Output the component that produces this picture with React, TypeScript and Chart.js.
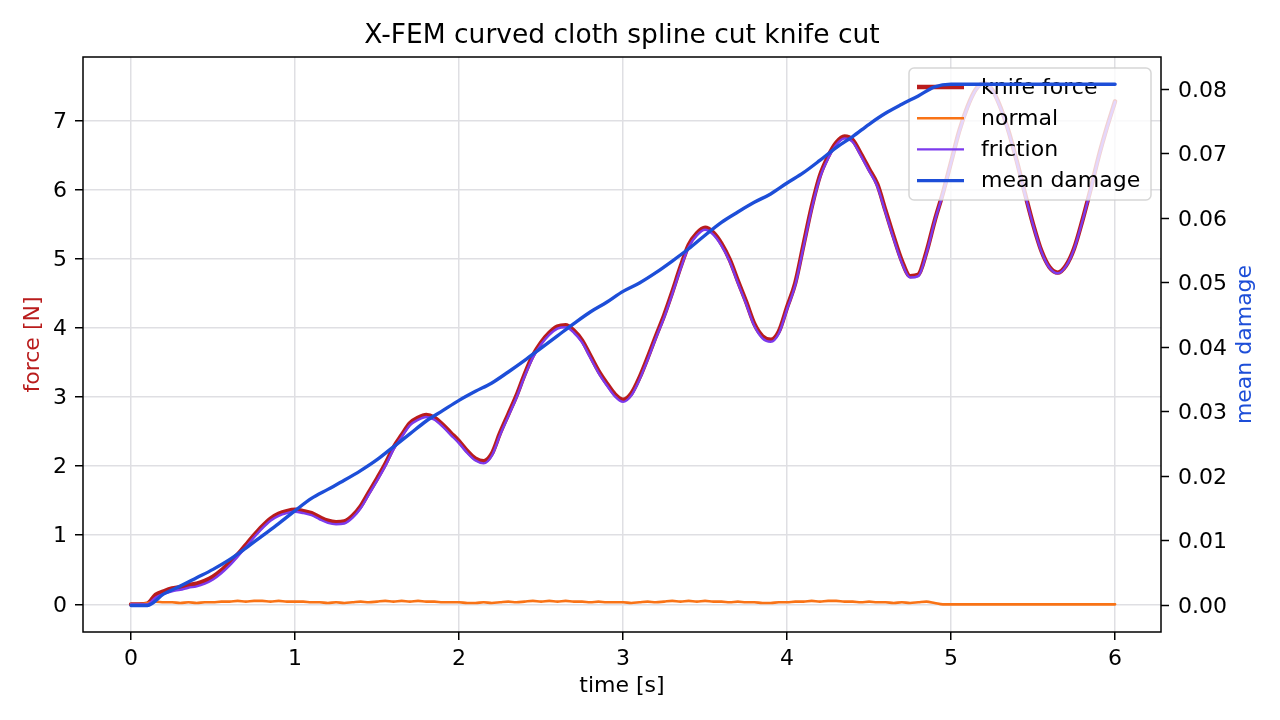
import { useEffect, useRef } from 'react';
import { Chart, registerables } from 'chart.js';

Chart.register(...registerables);

const FONT = '"DejaVu Sans", "Liberation Sans", sans-serif';

const TITLE = 'X-FEM curved cloth spline cut knife cut';
const X_LABEL = 'time [s]';
const Y_LABEL = 'force [N]';
const Y2_LABEL = 'mean damage';
const SERIES_NAMES = ['knife force', 'normal', 'friction', 'mean damage'];

const X_TICKS = [0, 1, 2, 3, 4, 5, 6];
const Y_TICKS = [0, 1, 2, 3, 4, 5, 6, 7];
const Y2_TICKS = [0, 0.01, 0.02, 0.03, 0.04, 0.05, 0.06, 0.07, 0.08];

const time = [
  0.0, 0.05, 0.1, 0.15, 0.2, 0.25, 0.3, 0.35, 0.4, 0.45,
  0.5, 0.55, 0.6, 0.65, 0.7, 0.75, 0.8, 0.85, 0.9, 0.95,
  1.0, 1.05, 1.1, 1.15, 1.2, 1.25, 1.3, 1.35, 1.4, 1.45,
  1.5, 1.55, 1.6, 1.65, 1.7, 1.75, 1.8, 1.85, 1.9, 1.95,
  2.0, 2.05, 2.1, 2.15, 2.2, 2.25, 2.3, 2.35, 2.4, 2.45,
  2.5, 2.55, 2.6, 2.65, 2.7, 2.75, 2.8, 2.85, 2.9, 2.95,
  3.0, 3.05, 3.1, 3.15, 3.2, 3.25, 3.3, 3.35, 3.4, 3.45,
  3.5, 3.55, 3.6, 3.65, 3.7, 3.75, 3.8, 3.85, 3.9, 3.95,
  4.0, 4.05, 4.1, 4.15, 4.2, 4.25, 4.3, 4.35, 4.4, 4.45,
  4.5, 4.55, 4.6, 4.65, 4.7, 4.75, 4.8, 4.85, 4.9, 4.95,
  5.0, 5.05, 5.1, 5.15, 5.2, 5.25, 5.3, 5.35, 5.4, 5.45,
  5.5, 5.55, 5.6, 5.65, 5.7, 5.75, 5.8, 5.85, 5.9, 5.95,
  6.0,
];

const knifeForce = [
  0, 0, 0.01, 0.14, 0.19, 0.23, 0.25, 0.28, 0.3, 0.34,
  0.4, 0.49, 0.6, 0.72, 0.86, 1.0, 1.13, 1.24, 1.31, 1.35,
  1.37, 1.35, 1.32, 1.26, 1.21, 1.19, 1.2, 1.28, 1.42, 1.62,
  1.82, 2.03, 2.27, 2.45, 2.62, 2.7, 2.74, 2.7, 2.6, 2.48,
  2.36, 2.22, 2.11, 2.07, 2.18, 2.48, 2.75, 3.02, 3.33, 3.6,
  3.79, 3.93, 4.02, 4.04, 3.96, 3.82, 3.6, 3.38, 3.2, 3.04,
  2.96, 3.05, 3.28, 3.57, 3.88, 4.18, 4.52, 4.88, 5.2, 5.37,
  5.45, 5.38, 5.22, 4.99, 4.68, 4.38, 4.06, 3.88, 3.83, 3.95,
  4.3, 4.65, 5.2, 5.75, 6.2, 6.48, 6.68, 6.77, 6.72, 6.52,
  6.3, 6.08, 5.7, 5.32, 4.97, 4.75, 4.77, 5.1, 5.55, 5.95,
  6.4, 6.85, 7.2, 7.45, 7.54, 7.45, 7.2, 6.85, 6.42, 5.95,
  5.5, 5.12, 4.88, 4.8, 4.9, 5.15, 5.55, 6.0, 6.48, 6.9,
  7.28,
];

const normalForce = [
  0, 0, 0.02, 0.04, 0.03, 0.03, 0.02, 0.03, 0.02, 0.03,
  0.03, 0.04, 0.04, 0.05, 0.04, 0.05, 0.05, 0.04, 0.05, 0.04,
  0.04, 0.04, 0.03, 0.03, 0.02, 0.03, 0.02, 0.03, 0.04, 0.03,
  0.04, 0.05, 0.04, 0.05, 0.04, 0.05, 0.04, 0.04, 0.03, 0.03,
  0.03, 0.02, 0.02, 0.03, 0.02, 0.03, 0.04, 0.03, 0.04, 0.05,
  0.04, 0.05, 0.04, 0.05, 0.04, 0.04, 0.03, 0.04, 0.03, 0.03,
  0.03, 0.02, 0.03, 0.04, 0.03, 0.04, 0.05, 0.04, 0.05, 0.04,
  0.05, 0.04, 0.04, 0.03, 0.04, 0.03, 0.03, 0.02, 0.02, 0.03,
  0.03, 0.04, 0.04, 0.05, 0.04, 0.05, 0.05, 0.04, 0.04, 0.03,
  0.04, 0.03, 0.03, 0.02, 0.03, 0.02, 0.03, 0.04, 0.02, 0.0,
  0, 0, 0, 0, 0, 0, 0, 0, 0, 0,
  0, 0, 0, 0, 0, 0, 0, 0, 0, 0,
  0,
];

const frictionForce = [
  0, 0, 0, 0.1, 0.15, 0.19, 0.21, 0.24, 0.26, 0.3,
  0.36, 0.45, 0.56, 0.69, 0.83, 0.97, 1.1, 1.21, 1.28, 1.32,
  1.34, 1.32, 1.29, 1.23, 1.18, 1.16, 1.17, 1.25, 1.39, 1.59,
  1.79, 2.0, 2.24, 2.42, 2.59, 2.67, 2.71, 2.67, 2.57, 2.45,
  2.33, 2.19, 2.08, 2.04, 2.15, 2.45, 2.72, 2.99, 3.3, 3.57,
  3.76, 3.9, 3.99, 4.01, 3.93, 3.79, 3.57, 3.35, 3.17, 3.01,
  2.93, 3.02, 3.25, 3.54, 3.85, 4.15, 4.49, 4.85, 5.17, 5.34,
  5.42, 5.35, 5.19, 4.96, 4.65, 4.35, 4.03, 3.85, 3.8, 3.92,
  4.27, 4.62, 5.17, 5.72, 6.17, 6.45, 6.65, 6.74, 6.69, 6.49,
  6.27, 6.05, 5.67, 5.29, 4.94, 4.73, 4.75, 5.08, 5.54, 5.94,
  6.39, 6.84, 7.19, 7.44, 7.53, 7.44, 7.19, 6.84, 6.41, 5.94,
  5.49, 5.11, 4.87, 4.79, 4.89, 5.14, 5.54, 5.99, 6.47, 6.89,
  7.27,
];

const damageTime = [
  0.0, 0.1, 0.2, 0.3, 0.4, 0.5, 0.6, 0.7, 0.8, 0.9,
  1.0, 1.1, 1.2, 1.3, 1.4, 1.5, 1.6, 1.7, 1.8, 1.9,
  2.0, 2.1, 2.2, 2.3, 2.4, 2.5, 2.6, 2.7, 2.8, 2.9,
  3.0, 3.1, 3.2, 3.3, 3.4, 3.5, 3.6, 3.7, 3.8, 3.9,
  4.0, 4.1, 4.2, 4.3, 4.4, 4.5, 4.6, 4.7, 4.8, 4.9,
  5.0, 5.1, 5.2, 5.3, 5.4, 5.5, 5.6, 5.7, 5.8, 5.9,
  6.0,
];

const meanDamage = [
  0, 0, 0.0018, 0.003, 0.0043, 0.0056, 0.0071, 0.0089, 0.0108, 0.0127,
  0.0147, 0.0166, 0.018, 0.0194, 0.0209, 0.0226, 0.0246, 0.0266, 0.0286, 0.0302,
  0.0318, 0.0332, 0.0345, 0.0362, 0.038, 0.0399, 0.0418, 0.0437, 0.0455, 0.047,
  0.0487, 0.05, 0.0516, 0.0534, 0.0553, 0.0574, 0.0594, 0.061, 0.0625, 0.0638,
  0.0655, 0.0671, 0.069, 0.071, 0.0727, 0.0746, 0.0763, 0.0777, 0.079, 0.0804,
  0.0808, 0.0808, 0.0808, 0.0808, 0.0808, 0.0808, 0.0808, 0.0808, 0.0808, 0.0808,
  0.0808,
];

const COLORS = ['#b91c1c', '#f97316', '#7c3aed', '#1d4ed8'];
const WIDTHS = [4.4, 2.6, 2.4, 3.4];

const GRID = '#dfdfe3';

function pairs(xs: number[], ys: number[]) {
  return xs.map((x, i) => ({ x, y: ys[i] }));
}

const overlayPlugin = {
  id: 'overlay',
  afterDatasetDraw(chart: any, args: any) {
    if (args.index !== 2) return;
    const ctx = chart.ctx as CanvasRenderingContext2D;
    const area = chart.chartArea;
    const bx = area.right - 252;
    const by = area.top + 11;
    const bw = 242;
    const bh = 132;
    ctx.save();
    ctx.beginPath();
    (ctx as any).roundRect(bx, by, bw, bh, 5);
    ctx.fillStyle = 'rgba(255,255,255,0.8)';
    ctx.fill();
    ctx.lineWidth = 1.5;
    ctx.strokeStyle = 'rgba(204,204,204,0.8)';
    ctx.stroke();
    ctx.font = `22px ${FONT}`;
    ctx.textBaseline = 'middle';
    ctx.textAlign = 'left';
    SERIES_NAMES.forEach((name, i) => {
      const y = by + 19 + i * 31.2;
      ctx.beginPath();
      ctx.moveTo(bx + 8, y);
      ctx.lineTo(bx + 55, y);
      ctx.strokeStyle = COLORS[i];
      ctx.lineWidth = WIDTHS[i];
      ctx.stroke();
      ctx.fillStyle = '#000';
      ctx.fillText(name, bx + 72, y + 1);
    });
    ctx.restore();
  },
  afterDraw(chart: any) {
    const ctx = chart.ctx as CanvasRenderingContext2D;
    const a = chart.chartArea;
    const cx = (a.left + a.right) / 2;
    const cy = (a.top + a.bottom) / 2;
    ctx.save();
    ctx.strokeStyle = '#000';
    ctx.lineWidth = 1.5;
    ctx.strokeRect(a.left, a.top, a.right - a.left, a.bottom - a.top);

    ctx.fillStyle = '#000';
    ctx.textAlign = 'center';
    ctx.textBaseline = 'middle';
    ctx.font = `26.5px ${FONT}`;
    ctx.fillText(TITLE, cx, 36);

    ctx.font = `22px ${FONT}`;
    ctx.fillText(X_LABEL, cx, 686);

    ctx.save();
    ctx.translate(33, cy);
    ctx.rotate(-Math.PI / 2);
    ctx.fillStyle = COLORS[0];
    ctx.fillText(Y_LABEL, 0, 0);
    ctx.restore();

    ctx.save();
    ctx.translate(1245, cy);
    ctx.rotate(-Math.PI / 2);
    ctx.fillStyle = COLORS[3];
    ctx.fillText(Y2_LABEL, 0, 0);
    ctx.restore();

    ctx.restore();
  },
};

export default function App() {
  const ref = useRef<HTMLCanvasElement>(null);

  useEffect(() => {
    const canvas = ref.current;
    if (!canvas) return;
    const tickFont = { family: FONT, size: 22 };
    const chart = new Chart(canvas, {
      type: 'line',
      data: {
        datasets: [
          {
            label: SERIES_NAMES[0],
            data: pairs(time, knifeForce),
            borderColor: COLORS[0],
            borderWidth: WIDTHS[0],
            yAxisID: 'y',
            order: 3,
          },
          {
            label: SERIES_NAMES[1],
            data: pairs(time, normalForce),
            borderColor: COLORS[1],
            borderWidth: WIDTHS[1],
            yAxisID: 'y',
            order: 2,
          },
          {
            label: SERIES_NAMES[2],
            data: pairs(time, frictionForce),
            borderColor: COLORS[2],
            borderWidth: WIDTHS[2],
            yAxisID: 'y',
            order: 1,
          },
          {
            label: SERIES_NAMES[3],
            data: pairs(damageTime, meanDamage),
            borderColor: COLORS[3],
            borderWidth: WIDTHS[3],
            yAxisID: 'y2',
            order: 0,
          },
        ],
      },
      options: {
        animation: false,
        responsive: false,
        devicePixelRatio: 1,
        layout: { padding: { top: 57, left: 0, right: 0, bottom: 0 } },
        elements: {
          point: { radius: 0, hoverRadius: 0 },
          line: { tension: 0.3, cubicInterpolationMode: 'monotone', fill: false, borderCapStyle: 'round', borderJoinStyle: 'round' },
        },
        plugins: {
          legend: { display: false },
          title: { display: false },
          tooltip: { enabled: false },
        },
        events: [],
        scales: {
          x: {
            type: 'linear',
            position: 'bottom',
            min: -0.293,
            max: 6.28,
            afterBuildTicks: (s: any) => {
              s.ticks = X_TICKS.map((v) => ({ value: v }));
            },
            afterFit: (s: any) => {
              s.height = 88;
            },
            grid: { color: GRID, lineWidth: 1.5, tickColor: '#000', tickLength: 8, tickWidth: 1.5 },
            border: { display: false },
            ticks: { font: tickFont, color: '#000', padding: 6, maxRotation: 0, callback: (v: any) => String(v) },
          },
          y: {
            type: 'linear',
            position: 'left',
            min: -0.4,
            max: 7.92,
            afterBuildTicks: (s: any) => {
              s.ticks = Y_TICKS.map((v) => ({ value: v }));
            },
            afterFit: (s: any) => {
              s.width = 83;
            },
            grid: { color: GRID, lineWidth: 1.5, tickColor: '#000', tickLength: 8, tickWidth: 1.5 },
            border: { display: false },
            ticks: { font: tickFont, color: '#000', padding: 8, labelOffset: 1.5, callback: (v: any) => String(v) },
          },
          y2: {
            type: 'linear',
            position: 'right',
            min: -0.00411,
            max: 0.08503,
            afterBuildTicks: (s: any) => {
              s.ticks = Y2_TICKS.map((v) => ({ value: v }));
            },
            afterFit: (s: any) => {
              s.width = 119;
            },
            grid: { drawOnChartArea: false, tickColor: '#000', tickLength: 8, tickWidth: 1.5 },
            border: { display: false },
            ticks: { font: tickFont, color: '#000', padding: 9, labelOffset: 1.5, callback: (v: any) => Number(v).toFixed(2) },
          },
        },
      },
      plugins: [overlayPlugin],
    } as any);
    return () => chart.destroy();
  }, []);

  return (
    <div style={{ position: 'fixed', left: 0, top: 0, width: 1280, height: 720, background: '#fff' }}>
      <canvas ref={ref} width={1280} height={720} style={{ width: 1280, height: 720, display: 'block' }} />
    </div>
  );
}
